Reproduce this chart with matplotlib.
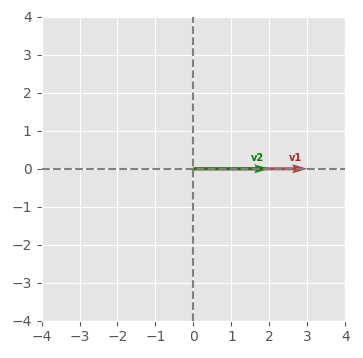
import matplotlib
matplotlib.use("Agg")
import matplotlib.pyplot as plt
import numpy as np

plt.style.use("ggplot")

names = ["v1", "v2"]
vx = [3, 2]
vy = [0, 0]
colors = ["firebrick", "green"]
lim = 4


def draw():
    fig, ax = plt.subplots(figsize=(3.63, 3.58), dpi=100)
    for n, x, y, c in zip(names, vx, vy, colors):
        ax.quiver(0, 0, x, y, angles="xy", scale_units="xy", scale=1,
                  color=c, width=0.01, alpha=0.85, zorder=2)
        ax.text(x - 0.32, y + 0.15, n, color=c, fontsize=7, fontweight="bold",
                ha="center", va="bottom")
    ax.axhline(0, color="gray", linestyle="--", lw=1.5, zorder=3)
    ax.axvline(0, color="gray", linestyle="--", lw=1.5, zorder=3)
    ax.set_xlim(-lim, lim)
    ax.set_ylim(-lim, lim)
    ax.set_xticks(np.arange(-lim, lim + 1))
    ax.set_yticks(np.arange(-lim, lim + 1))
    ax.set_aspect("equal")
    fig.subplots_adjust(left=0.113, right=0.953, top=0.953, bottom=0.104)
    fig.savefig("out.png")


draw()
